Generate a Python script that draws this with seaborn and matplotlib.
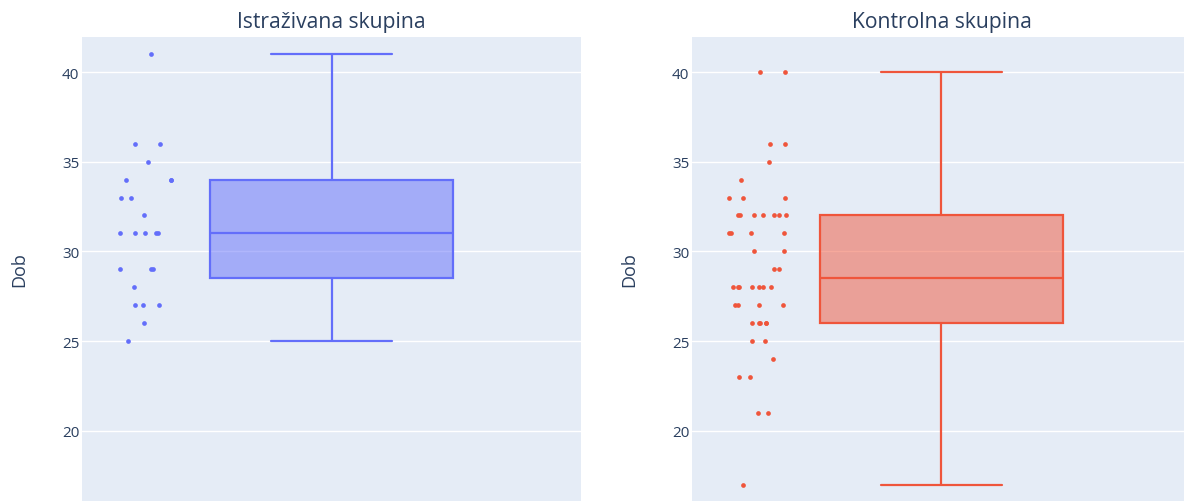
import numpy as np
import pandas as pd
import matplotlib
matplotlib.use("Agg")
import matplotlib as mpl
import matplotlib.pyplot as plt
import seaborn as sns

# ---- data ----
titles = ["Istraživana skupina", "Kontrolna skupina"]
y_label = "Dob"
istrazivana = [41, 36, 36, 35, 34, 34, 34, 33, 33, 32, 31, 31, 31, 31, 31,
               29, 29, 29, 28, 27, 27, 27, 26, 25]
kontrolna = [40, 40, 36, 36, 35, 34, 33, 33, 33,
             32, 32, 32, 32, 32, 32, 32, 31, 31, 31, 31, 30, 30, 29, 29,
             28, 28, 28, 28, 28, 28, 28, 27, 27, 27, 27,
             26, 26, 26, 26, 26, 25, 25, 24, 23, 23, 21, 21, 17]
y_ticks = [20, 25, 30, 35, 40]
colors = ["#636EFA", "#EF553B"]

# ---- quartiles computed like plotly (midpoint between order statistics) ----
_orig_stats = mpl.cbook.boxplot_stats


def _plotly_like_stats(X, *args, **kwargs):
    stats = _orig_stats(X, *args, **kwargs)
    arrays = X if (len(stats) > 1 or np.ndim(X[0]) > 0) else [X]
    whis = kwargs.get("whis", 1.5)
    for st, arr in zip(stats, arrays):
        x = np.asarray(arr, dtype=float)
        q1, med, q3 = np.percentile(x, [25, 50, 75], method="midpoint")
        iqr = q3 - q1
        lo, hi = q1 - whis * iqr, q3 + whis * iqr
        st["q1"], st["med"], st["q3"], st["iqr"] = q1, med, q3, iqr
        st["whislo"] = np.min(x[x >= lo])
        st["whishi"] = np.max(x[x <= hi])
        st["fliers"] = x[(x < lo) | (x > hi)]
    return stats


mpl.cbook.boxplot_stats = _plotly_like_stats

sns.set_theme(style="white")
plt.rcParams["font.family"] = ["Open Sans", "DejaVu Sans"]
text_color = "#2a3f5f"
bg = "#E5ECF6"

fig = plt.figure(figsize=(11.84, 5.02), dpi=100)
W, H = 1184, 502
top_px = 37.5
panels = [(82, istrazivana), (692, kontrolna)]
panel_w = 499

for i, ((left_px, vals), title) in enumerate(zip(panels, titles)):
    ax = fig.add_axes([left_px / W, 0, panel_w / W, (H - top_px) / H])
    ax.set_facecolor(bg)
    c = colors[i]
    rgb = mpl.colors.to_rgb(c)
    n = len(vals)
    df_box = pd.DataFrame({"pos": np.zeros(n), "val": vals})
    df_pts = pd.DataFrame({"pos": np.full(n, -0.757), "val": vals})

    sns.boxplot(data=df_box, x="pos", y="val", native_scale=True, width=1.0,
                whis=1.5, showfliers=False, ax=ax,
                boxprops=dict(facecolor=(*rgb, 0.5), edgecolor=c, linewidth=1.6),
                whiskerprops=dict(color=c, linewidth=1.6),
                capprops=dict(color=c, linewidth=1.6),
                medianprops=dict(color=c, linewidth=1.6))
    np.random.seed(3 + i)
    sns.stripplot(data=df_pts, x="pos", y="val", native_scale=True, jitter=0.12,
                  color=c, size=3.4, linewidth=0, ax=ax, zorder=3)

    ax.set_xlim(-1.027, 1.027)
    ax.set_ylim(16.08, 41.98)
    ax.set_xticks([])
    ax.set_yticks(y_ticks)
    ax.set_xlabel("")
    ax.set_ylabel(y_label, fontsize=13, color=text_color)
    ax.yaxis.set_label_coords(-0.108, 0.5)
    ax.tick_params(axis="y", length=0, pad=2, labelsize=11, labelcolor=text_color)
    ax.grid(axis="y", color="white", linewidth=1.0)
    ax.set_axisbelow(True)
    for s in ax.spines.values():
        s.set_visible(False)
    ax.set_title(title, fontsize=15.2, color=text_color, pad=6.5)

fig.savefig("out.png", dpi=100, facecolor="white")
